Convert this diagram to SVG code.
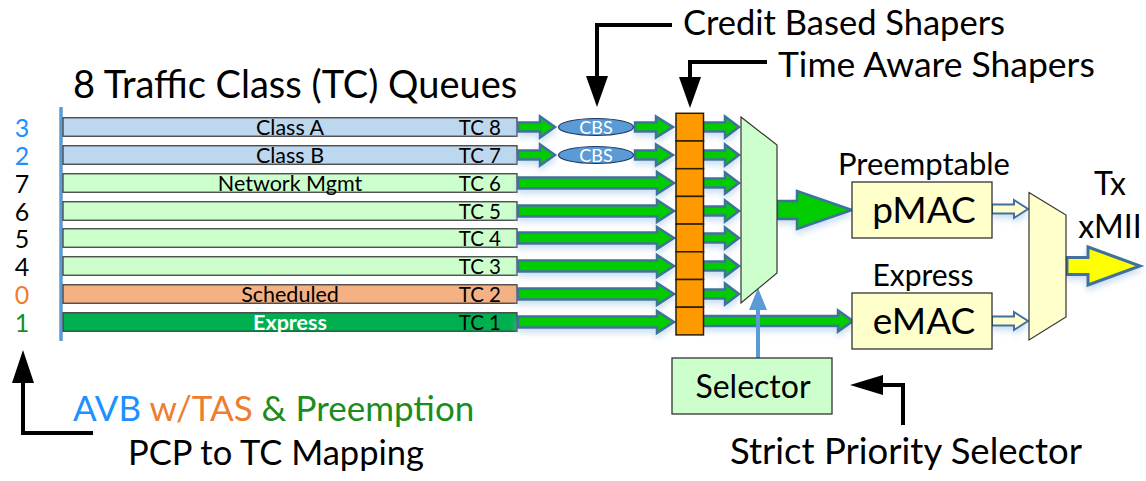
<svg xmlns="http://www.w3.org/2000/svg" width="1146" height="481" viewBox="0 0 1146 481">
<style>
text{font-family:Lato,"Open Sans","DejaVu Sans",sans-serif;fill:#000}
.bar{stroke:#404040;stroke-width:1.3}
.bl{font-size:21.5px;text-anchor:middle}
.tc{font-size:20.5px;text-anchor:end}
.num{font-size:25px;text-anchor:middle}
.ga{fill:#00CC00;stroke:#41719C;stroke-width:2.5;stroke-linejoin:miter;filter:url(#sh)}
.oa{fill:#FFFFCC;stroke:#41719C;stroke-width:2;filter:url(#sh)}
.cell{fill:#FF9900;stroke:#2B1E00;stroke-width:1.5}
.blk{fill:none;stroke:#000;stroke-width:4}
.cbs{font-size:18px;fill:#fff;text-anchor:middle}
.mid{text-anchor:middle}
</style>
<defs>
<filter id="sh" x="-20%" y="-50%" width="140%" height="220%">
<feDropShadow dx="0" dy="4" stdDeviation="3" flood-color="#9DC3E6" flood-opacity="0.55"/>
</filter>
<polygon id="aShort" points="518,-4.5 540,-4.5 540,-10.5 555,0 540,10.5 540,4.5 518,4.5"/>
<polygon id="aCbsTas" points="635,-4.5 656,-4.5 656,-10.5 673,0 656,10.5 656,4.5 635,4.5"/>
<polygon id="aLong" points="518,-5.5 657,-5.5 657,-11 674,0 657,11 657,5.5 518,5.5"/>
<polygon id="aTasMux" points="703,-4.5 725,-4.5 725,-10.5 739,0 725,10.5 725,4.5 703,4.5"/>
<polygon id="aOpen" points="992,-4.5 1014,-4.5 1014,-9 1028,0 1014,9 1014,4.5 992,4.5"/>
</defs>

<!-- left mapping line -->
<line x1="61" y1="107" x2="61" y2="341" stroke="#5B9BD5" stroke-width="3.5"/>

<g id="pcp-numbers">
<text class="num" x="22" y="137" style="fill:#1E90FF">3</text>
<text class="num" x="22" y="165" style="fill:#1E90FF">2</text>
<text class="num" x="22" y="193">7</text>
<text class="num" x="22" y="221">6</text>
<text class="num" x="22" y="248">5</text>
<text class="num" x="22" y="276">4</text>
<text class="num" x="22" y="304" style="fill:#ED7D31">0</text>
<text class="num" x="22" y="332" style="fill:#1E8B1E">1</text>
</g>

<text x="73" y="98" style="font-size:38px">8 Traffic Class (TC) Queues</text>

<g id="q-tc8"><rect class="bar" x="63" y="117.75" width="454" height="18.5" fill="#BDD7EE"/><text class="bl" x="290" y="134.5">Class A</text><text class="tc" x="501" y="134.5">TC 8</text></g>
<g id="q-tc7"><rect class="bar" x="63" y="145.75" width="454" height="18.5" fill="#BDD7EE"/><text class="bl" x="290" y="162.5">Class B</text><text class="tc" x="501" y="162.5">TC 7</text></g>
<g id="q-tc6"><rect class="bar" x="63" y="173.75" width="454" height="18.5" fill="#CCFFCC"/><text class="bl" x="290" y="190.5">Network Mgmt</text><text class="tc" x="501" y="190.5">TC 6</text></g>
<g id="q-tc5"><rect class="bar" x="63" y="201.75" width="454" height="18.5" fill="#CCFFCC"/><text class="tc" x="501" y="218.5">TC 5</text></g>
<g id="q-tc4"><rect class="bar" x="63" y="228.75" width="454" height="18.5" fill="#CCFFCC"/><text class="tc" x="501" y="245.5">TC 4</text></g>
<g id="q-tc3"><rect class="bar" x="63" y="256.75" width="454" height="18.5" fill="#CCFFCC"/><text class="tc" x="501" y="273.5">TC 3</text></g>
<g id="q-tc2"><rect class="bar" x="63" y="284.75" width="454" height="18.5" fill="#F4B183"/><text class="bl" x="290" y="301.5">Scheduled</text><text class="tc" x="501" y="301.5">TC 2</text></g>
<g id="q-tc1"><rect class="bar" x="63" y="312.75" width="454" height="18.5" fill="#00B050"/><text class="bl" x="290" y="329.5" style="fill:#fff;font-weight:bold">Express</text><text class="tc" x="501" y="329.5">TC 1</text></g>

<g id="connectors">
<use href="#aShort" class="ga" y="127"/>
<use href="#aShort" class="ga" y="155"/>
<use href="#aCbsTas" class="ga" y="127"/>
<use href="#aCbsTas" class="ga" y="155"/>
<use href="#aLong" class="ga" y="183"/>
<use href="#aLong" class="ga" y="211"/>
<use href="#aLong" class="ga" y="238"/>
<use href="#aLong" class="ga" y="266"/>
<use href="#aLong" class="ga" y="294"/>
<use href="#aLong" class="ga" y="322"/>
<use href="#aTasMux" class="ga" y="127"/>
<use href="#aTasMux" class="ga" y="155"/>
<use href="#aTasMux" class="ga" y="183"/>
<use href="#aTasMux" class="ga" y="211"/>
<use href="#aTasMux" class="ga" y="238"/>
<use href="#aTasMux" class="ga" y="266"/>
<use href="#aTasMux" class="ga" y="294"/>
<polygon class="ga" points="703,316 838,316 838,310.5 853,321 838,331.5 838,326 703,326"/>
<polygon class="ga" points="777,201 797,201 797,191 852,210 797,229 797,219 777,219"/>
<use href="#aOpen" class="oa" y="209"/>
<use href="#aOpen" class="oa" y="321"/>
<polygon points="1067,257.5 1088,257.5 1088,247 1140,266 1088,285 1088,274.5 1067,274.5" fill="#FFFF00" stroke="#41719C" stroke-width="3" filter="url(#sh)"/>
<line x1="758" y1="358" x2="758" y2="306" stroke="#5B9BD5" stroke-width="4"/>
<polygon points="749,310 758,288 767,310" fill="#5B9BD5"/>
<!-- callouts -->
<polyline class="blk" points="672,25 597,25 597,78"/>
<polygon points="586,76 608,76 597,107"/>
<polyline class="blk" points="767,62 690,62 690,79"/>
<polygon points="679,77 701,77 690,108"/>
<polyline class="blk" points="903,425 903,385 880,385"/>
<polygon points="883,375 883,395 850,385"/>
<polyline class="blk" points="93,433 23,433 23,381"/>
<polygon points="12,383 34,383 23,350"/>
</g>

<g id="cbs1"><ellipse cx="596" cy="127" rx="37.5" ry="8.5" fill="#5B9BD5" stroke="#1F3864" stroke-width="1.2"/><text class="cbs" x="596" y="133.5">CBS</text></g>
<g id="cbs2"><ellipse cx="596" cy="155" rx="37.5" ry="8.5" fill="#5B9BD5" stroke="#1F3864" stroke-width="1.2"/><text class="cbs" x="596" y="161.5">CBS</text></g>

<g id="tas">
<rect class="cell" x="676" y="113.3" width="27.5" height="27.7"/>
<rect class="cell" x="676" y="141" width="27.5" height="27.7"/>
<rect class="cell" x="676" y="168.7" width="27.5" height="27.7"/>
<rect class="cell" x="676" y="196.4" width="27.5" height="27.7"/>
<rect class="cell" x="676" y="224.1" width="27.5" height="27.7"/>
<rect class="cell" x="676" y="251.8" width="27.5" height="27.7"/>
<rect class="cell" x="676" y="279.5" width="27.5" height="27.7"/>
<rect class="cell" x="676" y="307.2" width="27.5" height="27.7"/>
</g>

<g id="mux-sp"><polygon points="741,117 777,145 777,273 741,303" fill="#CCFFCC" stroke="#333" stroke-width="1.2"/></g>

<g id="selector"><rect x="672" y="358" width="160" height="56" fill="#CCFFCC" stroke="#333" stroke-width="1.3"/><text class="mid" x="753" y="398" style="font-size:32px">Selector</text></g>

<g id="pmac"><text class="mid" x="924" y="175" style="font-size:31px">Preemptable</text><rect x="852" y="182" width="140" height="56" fill="#FFFFCC" stroke="#333" stroke-width="1.3"/><text class="mid" x="924" y="223" style="font-size:37px">pMAC</text></g>
<g id="emac"><text class="mid" x="923" y="286" style="font-size:30px">Express</text><rect x="852" y="293" width="140" height="56" fill="#FFFFCC" stroke="#333" stroke-width="1.3"/><text class="mid" x="924" y="334" style="font-size:37px">eMAC</text></g>

<g id="mux-tx"><polygon points="1029,192.5 1066,215 1066,317 1029,340" fill="#FFFFCC" stroke="#333" stroke-width="1.2"/></g>
<g id="tx-label"><text class="mid" x="1110" y="195" style="font-size:32px">Tx</text><text class="mid" x="1110" y="238" style="font-size:32px">xMII</text></g>

<text x="683" y="35" style="font-size:34.5px">Credit Based Shapers</text>
<text x="778" y="77" style="font-size:35.5px">Time Aware Shapers</text>
<text x="73" y="421" style="font-size:35px"><tspan style="fill:#1E90FF">AVB </tspan><tspan style="fill:#ED7D31">w/TAS </tspan><tspan style="fill:#1E8B1E">&amp; Preemption</tspan></text>
<text x="128" y="465" style="font-size:34.5px">PCP to TC Mapping</text>
<text x="730" y="464" style="font-size:36.5px">Strict Priority Selector</text>
</svg>
